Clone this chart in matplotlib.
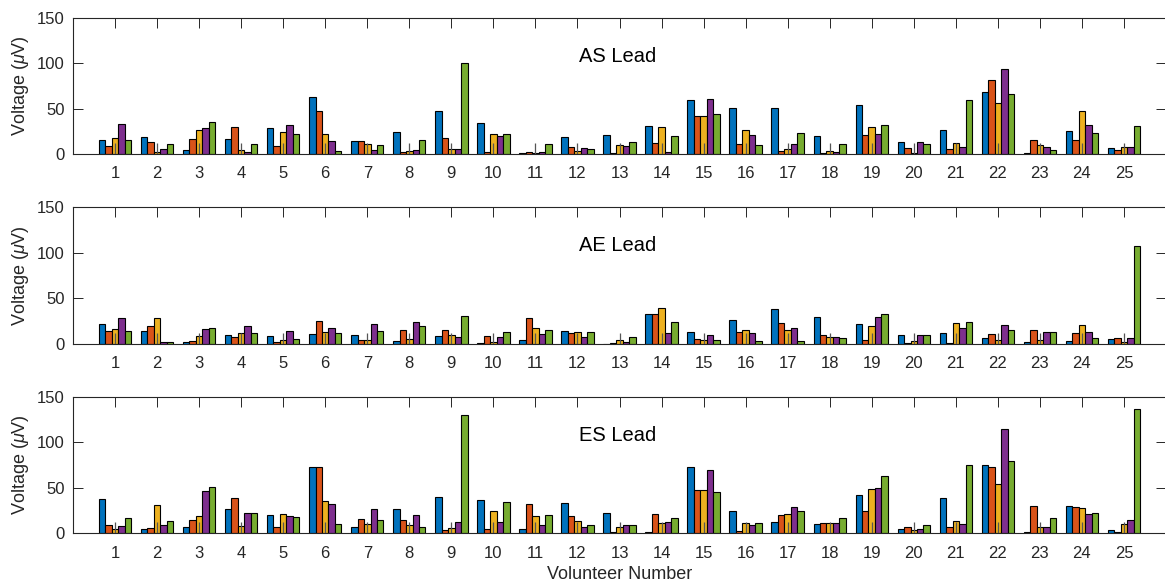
import numpy as np
import matplotlib
matplotlib.use("Agg")
import matplotlib.pyplot as plt

plt.rcParams["font.family"] = ["Liberation Sans", "DejaVu Sans"]
plt.rcParams["mathtext.fontset"] = "custom"
plt.rcParams["mathtext.rm"] = "Liberation Sans"
plt.rcParams["mathtext.it"] = "Liberation Sans:italic"

volunteers = list(range(1, 26))
series_colors = ["#0072BD", "#D95319", "#EDB120", "#7E2F8E", "#77AC30"]
lead_names = ["AS Lead", "AE Lead", "ES Lead"]
y_ticks = [0, 50, 100, 150]
center_mark_height = 12

# AS lead, five recordings per volunteer
as_r1 = [15.4, 19.0, 4.8, 17.0, 28.3, 62.9, 14.3, 24.3, 47.4, 34.6, 0.7, 18.4, 21.3,
         30.9, 59.6, 50.4, 50.4, 19.9, 53.7, 13.2, 26.8, 68.4, 1.1, 25.4, 6.3]
as_r2 = [9.2, 13.0, 16.5, 29.8, 8.5, 47.4, 14.7, 2.2, 17.6, 2.6, 2.6, 7.7, 0.7,
         12.1, 41.5, 10.7, 3.3, 1.1, 21.0, 6.3, 5.5, 81.6, 15.4, 15.4, 4.8]
as_r3 = [17.6, 2.2, 26.5, 4.8, 24.6, 22.0, 11.4, 3.3, 5.5, 21.7, 0.7, 3.3, 9.9,
         29.8, 41.5, 26.1, 5.5, 2.9, 29.8, 1.1, 12.1, 55.9, 9.9, 47.4, 8.1]
as_r4 = [33.0, 5.5, 28.3, 2.2, 32.4, 14.3, 4.8, 4.8, 5.5, 19.9, 2.6, 7.0, 9.2,
         2.6, 60.7, 20.6, 11.4, 2.6, 21.7, 13.2, 7.7, 93.8, 7.7, 32.0, 8.1]
as_r5 = [15.4, 10.7, 35.3, 10.7, 22.0, 2.9, 9.9, 15.4, 100.4, 22.4, 10.7, 5.5, 12.9,
         19.9, 44.5, 9.9, 22.8, 11.4, 32.0, 11.0, 59.6, 66.2, 4.4, 23.2, 30.5]

# AE lead
ae_r1 = [21.5, 13.9, 2.2, 9.9, 9.1, 10.9, 9.9, 3.3, 8.4, 0.7, 4.4, 14.2, 0.4,
         32.8, 13.5, 26.3, 38.3, 29.9, 21.5, 10.2, 12.0, 6.9, 1.8, 2.9, 5.8]
ae_r2 = [14.2, 19.7, 3.3, 8.0, 2.6, 25.5, 4.4, 15.0, 15.0, 8.4, 28.1, 11.7, 0.7,
         32.8, 5.5, 12.8, 23.0, 9.9, 4.4, 1.5, 1.5, 10.9, 15.3, 12.4, 6.9]
ae_r3 = [16.4, 28.8, 8.4, 12.0, 4.7, 12.8, 4.4, 5.5, 9.9, 2.6, 17.5, 12.8, 4.0,
         39.0, 4.4, 15.7, 15.3, 8.0, 19.3, 2.9, 22.6, 4.4, 4.4, 20.8, 1.8]
ae_r4 = [28.8, 2.2, 16.4, 20.0, 14.2, 17.5, 21.9, 23.7, 7.7, 8.0, 11.3, 7.7, 2.2,
         12.0, 9.9, 12.0, 17.5, 8.0, 29.2, 10.2, 17.5, 20.8, 13.1, 13.1, 6.9]
ae_r5 = [14.2, 2.2, 17.9, 11.7, 5.5, 12.0, 14.2, 19.3, 30.7, 12.8, 15.0, 12.8, 7.7,
         24.1, 4.4, 3.6, 3.6, 6.6, 32.8, 10.2, 23.7, 15.3, 13.1, 6.2, 106.9]

# ES lead
es_r1 = [37.0, 4.0, 6.6, 26.4, 19.4, 72.6, 6.6, 26.4, 39.6, 35.9, 4.0, 32.6, 21.6,
         1.5, 73.3, 23.8, 12.1, 9.9, 41.4, 4.0, 38.5, 74.8, 1.5, 29.3, 2.9]
es_r2 = [8.4, 5.1, 14.7, 38.1, 6.2, 72.6, 15.0, 13.9, 3.7, 4.0, 31.5, 18.3, 1.5,
         20.5, 46.9, 2.6, 19.4, 10.6, 24.2, 6.2, 6.2, 73.3, 29.3, 28.2, 1.5]
es_r3 = [4.0, 30.4, 18.7, 7.3, 21.3, 35.6, 9.9, 8.4, 5.1, 24.2, 18.7, 12.8, 6.6,
         11.0, 46.9, 11.0, 20.5, 10.6, 48.0, 2.9, 12.8, 53.5, 6.2, 27.1, 9.5]
es_r4 = [7.3, 8.4, 46.2, 22.0, 18.7, 31.5, 26.0, 19.8, 12.1, 12.1, 8.4, 6.2, 8.4,
         12.1, 70.0, 8.4, 28.6, 10.6, 49.5, 4.0, 9.5, 115.1, 6.6, 20.9, 14.3]
es_r5 = [16.1, 12.8, 50.2, 22.0, 17.2, 9.9, 14.3, 6.2, 130.5, 33.7, 19.4, 8.4, 8.4,
         16.9, 45.5, 10.6, 23.8, 16.5, 62.7, 8.8, 75.5, 79.9, 16.9, 21.6, 136.8]

leads = [
    [as_r1, as_r2, as_r3, as_r4, as_r5],
    [ae_r1, ae_r2, ae_r3, ae_r4, ae_r5],
    [es_r1, es_r2, es_r3, es_r4, es_r5],
]

W, H = 1165, 586
fig = plt.figure(figsize=(W / 100, H / 100), dpi=100)

# axes extents in pixels: (top, bottom)
ax_rows = [(18, 154), (207, 344), (397, 533)]
ax_left, ax_right = 73, 1166

axis_color = "#262626"
n_series = 5
group_width = 0.77
slot = group_width / n_series
x = np.array(volunteers, dtype=float)

for i, (top, bottom) in enumerate(ax_rows):
    ax = fig.add_axes([ax_left / W, 1 - bottom / H, (ax_right - ax_left) / W, (bottom - top) / H])
    for k, vals in enumerate(leads[i]):
        offs = (k - (n_series - 1) / 2) * slot
        ax.bar(x + offs, vals, width=slot, color=series_colors[k],
               edgecolor="black", linewidth=0.8, zorder=2)
    ax.vlines(x, 0, center_mark_height, color="#555555", linewidth=0.9, zorder=3)

    ax.set_xlim(0, 26)
    ax.set_ylim(0, 150)
    ax.set_xticks(volunteers)
    ax.set_yticks(y_ticks)
    ax.tick_params(direction="in", length=7.5, width=0.7, colors=axis_color,
                   labelsize=12, top=True, right=True, pad=6)
    ax.tick_params(axis="x", pad=9)
    for sp in ax.spines.values():
        sp.set_color(axis_color)
        sp.set_linewidth(0.8)
    ax.set_ylabel("Voltage ($\\mu$V)", fontsize=13, color=axis_color, labelpad=4)
    ax.text(12.95, 108, lead_names[i], ha="center", va="center",
            fontsize=14.5, color="black")
    if i == 2:
        ax.set_xlabel("Volunteer Number", fontsize=13, color=axis_color, labelpad=4)

fig.savefig("out.png", dpi=100)
